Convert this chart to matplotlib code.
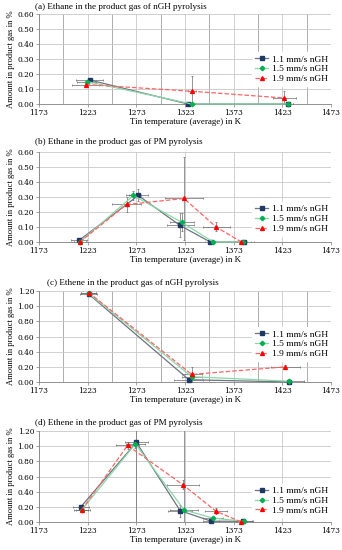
import matplotlib
matplotlib.use("Agg")
import matplotlib.pyplot as plt
from matplotlib.ticker import FormatStrFormatter

plt.rcParams['font.family'] = ['Liberation Serif', 'DejaVu Serif']

labels = ["1.1 mm/s nGH", "1.5 mm/s nGH", "1.9 mm/s nGH"]
titles = ["(a) Ethane in the product gas of nGH pyrolysis",
          "(b) Ethane in the product gas of PM pyrolysis",
          "(c) Ethene in the product gas of nGH pyrolysis",
          "(d) Ethene in the product gas of PM pyrolysis"]
x_ticks = [1173, 1223, 1273, 1323, 1373, 1423, 1473]

# (a) ethane nGH
a_x = [[1225, 1326, 1429], [1222, 1330, 1429], [1221, 1330, 1425]]
a_y = [[0.16, 0.00, 0.00], [0.15, 0.00, 0.00], [0.13, 0.085, 0.04]]
a_xe = [[14, 4, 5], [10, 4, 5], [14, 4, 12]]
a_ye = [[0.01, 0.0, 0.0], [0.01, 0.0, 0.0], [0.01, 0.10, 0.05]]

# (b) ethane PM
b_x = [[1214, 1275, 1318, 1349, 1384], [1215, 1270, 1320, 1352, 1383], [1215, 1263, 1322, 1355, 1381]]
b_y = [[0.01, 0.31, 0.11, 0.00, 0.00], [0.00, 0.31, 0.13, 0.00, 0.00], [0.00, 0.25, 0.29, 0.10, 0.00]]
b_xe = [[8, 10, 14, 5, 10], [6, 8, 12, 5, 8], [6, 15, 20, 14, 6]]
b_ye = [[0.01, 0.04, 0.08, 0.0, 0.0], [0.01, 0.03, 0.06, 0.0, 0.0], [0.01, 0.05, 0.28, 0.03, 0.0]]

# (c) ethene nGH
c_x = [[1224, 1327, 1430], [1224, 1330, 1430], [1224, 1330, 1426]]
c_y = [[1.16, 0.03, 0.00], [1.17, 0.07, 0.01], [1.18, 0.10, 0.20]]
c_xe = [[9, 15, 15], [8, 10, 15], [8, 10, 15]]
c_ye = [[0.02, 0.02, 0.0], [0.02, 0.02, 0.01], [0.02, 0.10, 0.03]]

# (d) ethene PM
d_x = [[1216, 1273, 1318, 1350, 1383], [1217, 1272, 1322, 1352, 1384], [1217, 1264, 1321, 1355, 1381]]
d_y = [[0.20, 1.05, 0.15, 0.01, 0.01], [0.16, 1.03, 0.16, 0.05, 0.01], [0.16, 1.01, 0.49, 0.14, 0.00]]
d_xe = [[8, 12, 12, 8, 10], [8, 10, 14, 10, 8], [6, 12, 16, 11, 6]]
d_ye = [[0.03, 1.2, 0.08, 0.01, 0.0], [0.02, 0.05, 1.2, 0.02, 0.0], [0.02, 0.05, 0.06, 0.04, 0.0]]

panels = [(a_x, a_y, a_xe, a_ye, 0.6, 0.1),
          (b_x, b_y, b_xe, b_ye, 0.6, 0.1),
          (c_x, c_y, c_xe, c_ye, 1.2, 0.2),
          (d_x, d_y, d_xe, d_ye, 1.2, 0.2)]

# axes boxes in pixels (top, bottom) on 342x550 figure
boxes = [(14, 104), (152, 242), (291, 382), (431, 522)]
title_pos = [(35, 7), (35, 142), (47, 283), (35, 423)]
legend_bottom = [0.20, 0.07, 0.23, 0.05]
minor_grid = [True, False, True, False]

mark_col = ["#1f3864", "#00b050", "#ff0000"]
line_col = ["#6e7480", "#8ad8a8", "#ff6666"]
markers = ["s", "D", "^"]
msizes = [2.8, 2.3, 2.8]
styles = ["-", "-", "--"]

W, H = 342, 550
fig = plt.figure(figsize=(W / 100, H / 100), dpi=100)

for i, (xs, ys, xes, yes, ymax, ystep) in enumerate(panels):
    top, bot = boxes[i]
    ax = fig.add_axes([39 / W, 1 - bot / H, 292 / W, (bot - top) / H])
    ax.set_xlim(1173, 1473)
    ax.set_ylim(0, ymax)
    ax.set_xticks(x_ticks)
    yt = [round(k * ystep, 2) for k in range(int(round(ymax / ystep)) + 1)]
    ax.set_yticks(yt)
    ax.yaxis.set_major_formatter(FormatStrFormatter('%.2f'))
    ax.grid(True, color="#c8c8c8", lw=0.6)
    if minor_grid[i]:
        for gx in range(1198, 1473, 50):
            ax.axvline(gx, color="#a0a0a0", lw=0.6, zorder=0.5)
    ax.set_axisbelow(True)
    for s in ["top", "right"]:
        ax.spines[s].set_visible(False)
    for s in ["left", "bottom"]:
        ax.spines[s].set_color("#808080")
        ax.spines[s].set_linewidth(0.6)
    ax.tick_params(labelsize=5.3, length=2, width=0.5, color="#808080", pad=1.5)
    for lab in ax.get_xticklabels() + ax.get_yticklabels():
        lab.set_family("DejaVu Serif")
    ax.set_xlabel("Tin temperature (average) in K", fontsize=6.4, labelpad=1)
    ax.set_ylabel("Amount in product gas in %", fontsize=6.2, labelpad=2)

    for k in range(3):
        ax.errorbar(xs[k], ys[k], xerr=xes[k], yerr=yes[k], fmt="none",
                    ecolor="#6a6a6a", elinewidth=0.5, capsize=1, capthick=0.5,
                    zorder=2)
    for k in range(3):
        ax.plot(xs[k], ys[k], ls=styles[k], color=line_col[k], lw=0.9,
                marker=markers[k], ms=msizes[k], mfc=mark_col[k], mec=mark_col[k],
                label=labels[k], zorder=3 + k, clip_on=False)

    leg = ax.legend(loc="lower right", bbox_to_anchor=(1.0, legend_bottom[i]),
                    fontsize=6.8, frameon=True, framealpha=1, edgecolor="white",
                    handlelength=1.4, labelspacing=0.12, borderpad=0.3,
                    handletextpad=0.4, borderaxespad=0)
    tx, ty = title_pos[i]
    fig.text(tx / W, 1 - ty / H, titles[i], fontsize=6.6, va="center", ha="left")

fig.savefig("out.png", dpi=100)
